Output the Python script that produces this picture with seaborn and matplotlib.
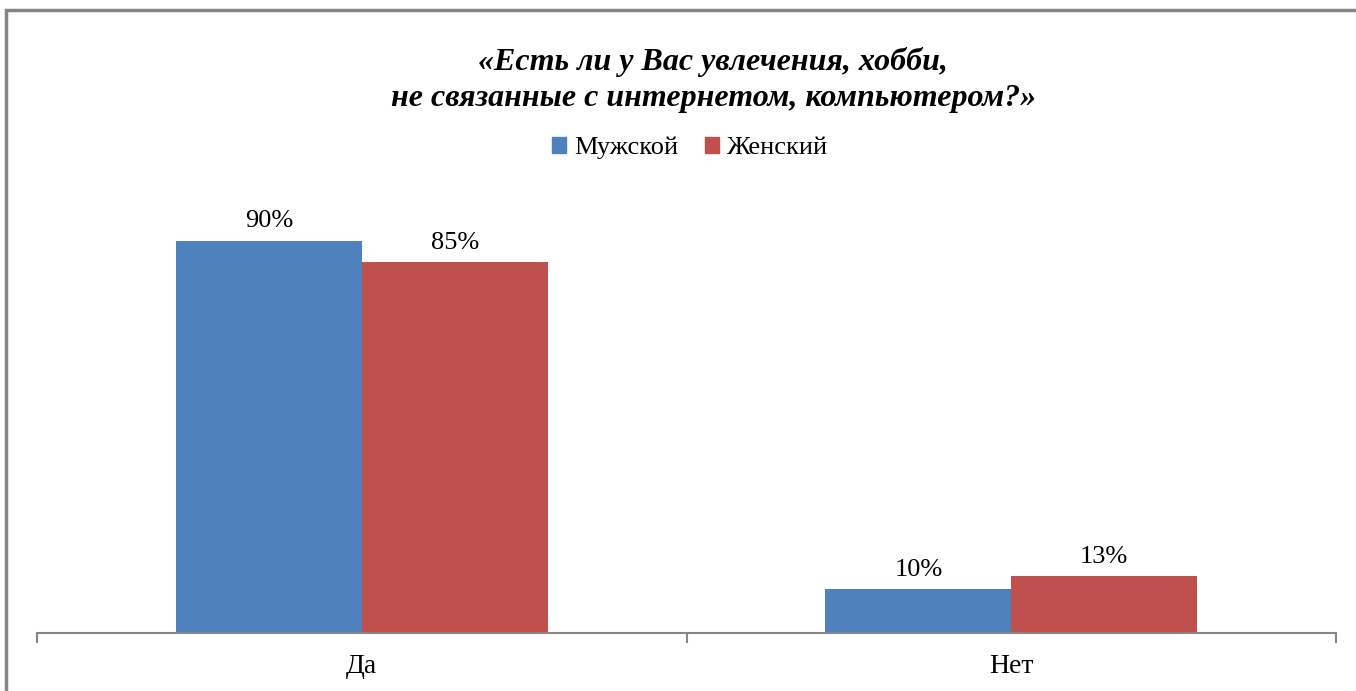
import pandas as pd
import matplotlib.pyplot as plt
import seaborn as sns
from matplotlib.patches import Rectangle

categories = ["Да", "Нет"]
series = ["Мужской", "Женский"]
male = [90, 10]
female = [85, 13]
colors = ["#4F81BD", "#C0504D"]
title = "«Есть ли у Вас увлечения, хобби,\nне связанные с интернетом, компьютером?»"

df = pd.DataFrame({
    "answer": categories * 2,
    "sex": [series[0]] * 2 + [series[1]] * 2,
    "value": male + female,
})

sns.set_style("white")
plt.rcParams["font.family"] = ["Liberation Serif", "DejaVu Serif"]
plt.rcParams["text.color"] = "black"
plt.rcParams["xtick.color"] = "black"

fig = plt.figure(figsize=(13.56, 6.91), dpi=100)
ax = fig.add_axes([37 / 1356, 58 / 691, 1299 / 1356, 436 / 691])

sns.barplot(data=df, x="answer", y="value", hue="sex", order=categories,
            hue_order=series, palette=colors, width=0.572, saturation=1,
            linewidth=0, edgecolor="none", ax=ax, legend=False)

for cont in ax.containers:
    ax.bar_label(cont, labels=[f"{v:.0f}%" for v in cont.datavalues],
                 padding=6, fontsize=19, color="black")

ax.set_xlim(-0.5, 1.5)
ax.set_ylim(0, 100)
ax.set_xlabel("")
ax.set_ylabel("")
ax.set_yticks([])
for s in ["top", "right", "left"]:
    ax.spines[s].set_visible(False)
ax.spines["bottom"].set_color("#868686")
ax.spines["bottom"].set_linewidth(1.5)
ax.set_xticks([-0.5, 0.5, 1.5], minor=True)
ax.tick_params(axis="x", which="minor", length=7, width=1.5, color="#868686", bottom=True)
ax.tick_params(axis="x", which="major", length=0, labelsize=20, pad=15, labelcolor="black")

handles = [Rectangle((0, 0), 1, 1, color=c) for c in colors]
fig.legend(handles, series, loc="center", bbox_to_anchor=(0.509, 0.786), ncol=2,
           frameon=False, fontsize=19, handlelength=0.55, handleheight=0.55,
           handletextpad=0.3, columnspacing=1.0)

fig.text(0.526, 0.884, title, ha="center", va="center", fontsize=23,
         fontweight="bold", fontstyle="italic", linespacing=1.33, color="black")

fig.patches.append(Rectangle((6 / 1356, -0.05), 1.1, 1 - 10 / 691 + 0.05,
                             transform=fig.transFigure, fill=False,
                             edgecolor="#868686", linewidth=2.5))

fig.savefig("out.png", dpi=100)
